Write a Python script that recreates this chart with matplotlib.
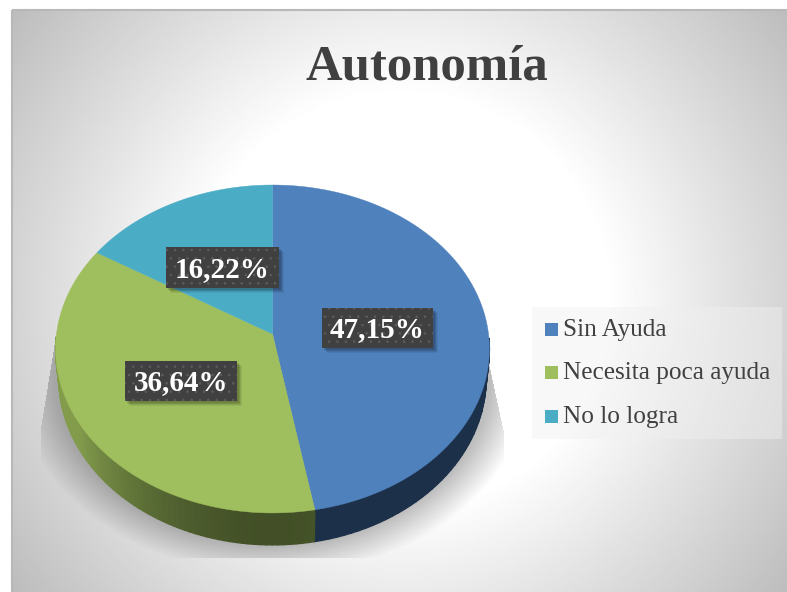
import numpy as np
import matplotlib
matplotlib.use("Agg")
import matplotlib.pyplot as plt
from matplotlib.patches import Polygon, Rectangle
from matplotlib.collections import PolyCollection
from matplotlib.colors import to_rgb

TITLE = "Autonomía"
LABELS = ["Sin Ayuda", "Necesita poca ayuda", "No lo logra"]
VALUES = [47.15, 36.64, 16.22]
COLORS = ["#4f81bd", "#9fbe5d", "#4bacc6"]

W, H = 787, 592
CX, CY = 272.5, 334
RX, RY, K = 216, 162.6, 0.0914
DEPTH = 29
FONT = "Liberation Serif"

plt.rcParams["hatch.linewidth"] = 0.6


def project(theta, lift=0.0):
    # tilted disc seen in perspective, theta clockwise from the top
    u, v = np.sin(theta), np.cos(theta)
    w = 1 + K * v
    rx = RX * 0.985 if lift else RX
    return CX + rx * u / w, CY - RY * v / w + lift / w


def background():
    yy, xx = np.mgrid[0:H, 0:W]
    r = np.hypot(xx - 395, yy - 295)
    return 1 - np.clip((r - 210) / 270, 0, 1.05) * 0.25


def pie_shadow():
    yy, xx = np.mgrid[0:H, 0:W]
    d = np.hypot((xx - 272) / 218, (yy - 376) / 168)
    a = np.clip((1.18 - d) / 0.18, 0, 1) * 0.34
    left = 41 + np.clip(425 - yy, 0, None) * 13 / 80
    right = 503 - np.clip(430 - yy, 0, None) * 13 / 60
    a[(xx < left) | (xx > right) | (yy > 557) | (yy < 345)] = 0
    img = np.zeros((H, W, 4))
    img[..., :3] = 0.25
    img[..., 3] = a
    return img


def side_color(color, theta):
    # side wall is darkest towards the front of the pie
    t = np.clip(abs(np.sin(theta)) * 1.15, 0, 1)
    base = np.array(to_rgb(color))
    return base * (0.42 + 0.4 * t**2)


fig = plt.figure(figsize=(W / 100, H / 100), dpi=100)
ax = fig.add_axes([0, 0, 1, 1])

ax.imshow(background(), cmap="gray", vmin=0, vmax=1, extent=(12, W, H, 10),
          aspect="auto", zorder=0, interpolation="bilinear")
ax.add_patch(Rectangle((11.5, 9.5), W, H, fill=False, ec="#b8b8b8", lw=1.5, zorder=1))
ax.imshow(pie_shadow(), extent=(0, W, H, 0), aspect="auto", zorder=1)
ax.set_xlim(0, W)
ax.set_ylim(H, 0)
ax.axis("off")

edges = np.cumsum([0] + VALUES) / sum(VALUES) * 2 * np.pi

# side wall, only the front half is visible
for i, color in enumerate(COLORS):
    ts = np.linspace(edges[i], edges[i + 1], 90)
    strips, cols = [], []
    for t0, t1 in zip(ts[:-1], ts[1:]):
        if np.cos((t0 + t1) / 2) > -0.02:
            continue
        x0, y0 = project(t0)
        x1, y1 = project(t1)
        x2, y2 = project(t1, DEPTH)
        x3, y3 = project(t0, DEPTH)
        strips.append([(x0, y0), (x1, y1), (x2, y2), (x3, y3)])
        if i == 0:
            cols.append("#1c3049")
        else:
            cols.append(side_color(color, (t0 + t1) / 2))
    if strips:
        ax.add_collection(PolyCollection(strips, facecolors=cols, edgecolors=cols,
                                         linewidths=1.0, zorder=2))

# top face
for i, color in enumerate(COLORS):
    ts = np.linspace(edges[i], edges[i + 1], 200)
    x, y = project(ts)
    pts = np.column_stack([np.r_[CX, x], np.r_[CY, y]])
    ax.add_patch(Polygon(pts, closed=True, fc=color, ec=color, lw=0.3, zorder=3))

ax.text(427, 67, TITLE, family=FONT, weight="bold", fontsize=36.5, color="#404040",
        ha="center", va="center", zorder=6)

# data labels
LABEL_BOXES = [(322, 308, 111, 40), (125, 361, 112, 40), (166, 247, 113, 41)]
for val, (bx, by, bw, bh) in zip(VALUES, LABEL_BOXES):
    for off, al in [(6, 0.06), (5, 0.08), (4, 0.1), (3, 0.12)]:
        ax.add_patch(Rectangle((bx + off - 1, by + off - 1), bw, bh, fc="#000000",
                               ec="none", alpha=al, zorder=4))
    ax.add_patch(Rectangle((bx, by), bw, bh, fc="#404040", ec="#5c5c5c", lw=0,
                           hatch="..", zorder=5))
    txt = f"{val:.2f}%".replace(".", ",")
    ax.text(bx + bw / 2, by + bh / 2 + 2, txt, family=FONT, weight="bold", fontsize=21,
            color="white", ha="center", va="center", zorder=6)

# legend
ax.add_patch(Rectangle((532, 307), 250, 132, fc="#f0f0f0", ec="none", alpha=0.46, zorder=4))
LEGEND_Y = [329, 372, 416]
for name, color, ly in zip(LABELS, COLORS, LEGEND_Y):
    ax.add_patch(Rectangle((545, ly - 6.5), 13, 13, fc=color, ec="none", zorder=5))
    ax.text(563, ly + 1, name, family=FONT, fontsize=18.2, color="#404040",
            ha="left", va="center", zorder=6)

fig.savefig("out.png", dpi=100, facecolor="white")
